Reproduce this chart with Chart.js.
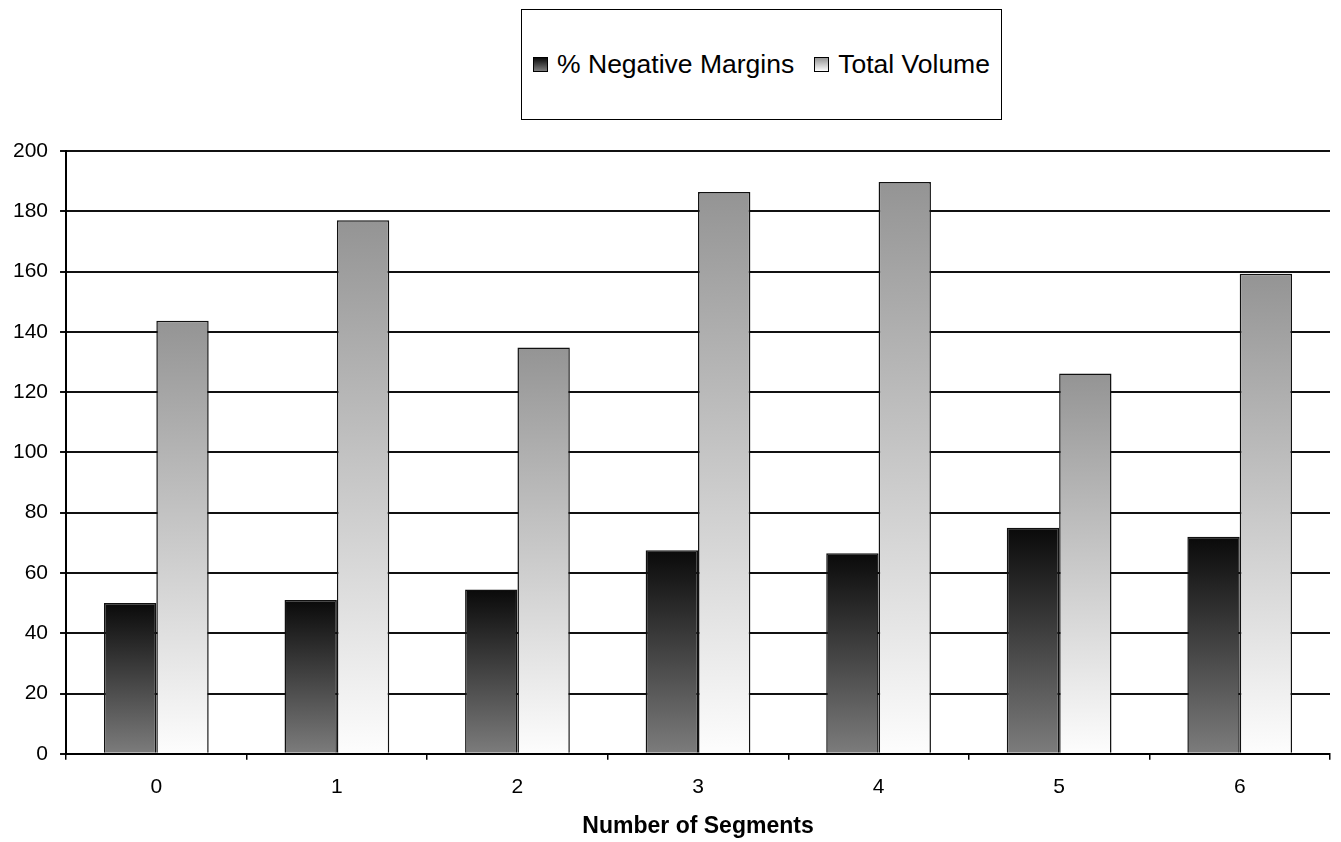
<!DOCTYPE html>
<html>
<head>
<meta charset="utf-8">
<script src="https://cdn.jsdelivr.net/npm/chart.js@4/dist/chart.umd.min.js"></script>
<style>
  html, body { margin: 0; padding: 0; background: #fff; }
  #wrap { position: relative; width: 1341px; height: 842px; }
  #legend {
    position: absolute; left: 521px; top: 9px; width: 481px; height: 111px; box-sizing: border-box;
    border: 1.5px solid #000; background: #fff;
    display: flex; align-items: center; justify-content: center;
    font-family: "Liberation Sans", Arial, sans-serif; font-size: 26.5px; color: #000;
  }
  #legend .item { display: flex; align-items: center; }
  #legend .item + .item { margin-left: 20px; }
  #legend .swatch { width: 13px; height: 13px; border: 1.5px solid #000; margin-right: 9px; }
  .dark { background: linear-gradient(#0a0a0a, #7c7c7c); }
  .light { background: linear-gradient(#959595, #fdfdfd); }
</style>
</head>
<body>
<div id="wrap">
  <canvas id="barChart" width="1341" height="842"></canvas>
  <div id="legend">
    <div class="item"><span class="swatch dark"></span><span>% Negative Margins</span></div>
    <div class="item"><span class="swatch light"></span><span>Total Volume</span></div>
  </div>
</div>
<script>
const segments = ['0', '1', '2', '3', '4', '5', '6'];
const negativeMargins = [50, 51, 54.5, 67.5, 66.5, 75, 72];
const totalVolume = [143.7, 177, 134.8, 186.4, 189.7, 126.2, 159.3];
const yTicks = [0, 20, 40, 60, 80, 100, 120, 140, 160, 180, 200];

const FONT = '"Liberation Sans", Arial, sans-serif';

// vertical gradient per bar, from value down to zero
const barGradient = (topColor, bottomColor) => (ctx) => {
    const chart = ctx.chart;
    if (!chart.chartArea || ctx.type !== 'data') return bottomColor;
    const y = chart.scales.y;
    const yTop = y.getPixelForValue(ctx.raw);
    const yBottom = y.getPixelForValue(0);
    const g = chart.ctx.createLinearGradient(0, yTop, 0, yBottom);
    g.addColorStop(0, topColor);
    g.addColorStop(1, bottomColor);
    return g;
};

const ctx = document.getElementById('barChart').getContext('2d');
new Chart(ctx, {
    type: 'bar',
    data: {
        labels: segments,
        datasets: [{
            label: '% Negative Margins',
            data: negativeMargins,
            backgroundColor: barGradient('#0a0a0a', '#7c7c7c'),
            borderColor: '#111',
            borderWidth: 1.5,
        }, {
            label: 'Total Volume',
            data: totalVolume,
            backgroundColor: barGradient('#949494', '#fdfdfd'),
            borderColor: '#111',
            borderWidth: 1.5,
        }]
    },
    options: {
        responsive: false,
        animation: false,
        layout: { padding: { top: 151, left: 1, right: 11, bottom: 4 } },
        datasets: { bar: { categoryPercentage: 0.58, barPercentage: 1 } },
        plugins: {
            legend: { display: false },
            tooltip: { enabled: false },
        },
        scales: {
            x: {
                grid: { offset: true, drawOnChartArea: false, drawTicks: true, tickLength: 6, color: '#000', lineWidth: 1.5 },
                border: { color: '#000', width: 2 },
                ticks: { color: '#000', padding: 15, font: { family: FONT, size: 21 } },
                title: {
                    display: true, text: 'Number of Segments', color: '#000',
                    font: { family: FONT, size: 23, weight: 'bold', lineHeight: 1 },
                    padding: { top: 0, bottom: 0 }
                }
            },
            y: {
                min: 0, max: 200,
                afterBuildTicks: (axis) => { axis.ticks = yTicks.map(v => ({ value: v })); },
                grid: { color: '#111', lineWidth: 2, tickLength: 6 },
                border: { color: '#000', width: 2 },
                ticks: { color: '#000', padding: 12, font: { family: FONT, size: 21 } }
            }
        }
    }
});
</script>
</body>
</html>
